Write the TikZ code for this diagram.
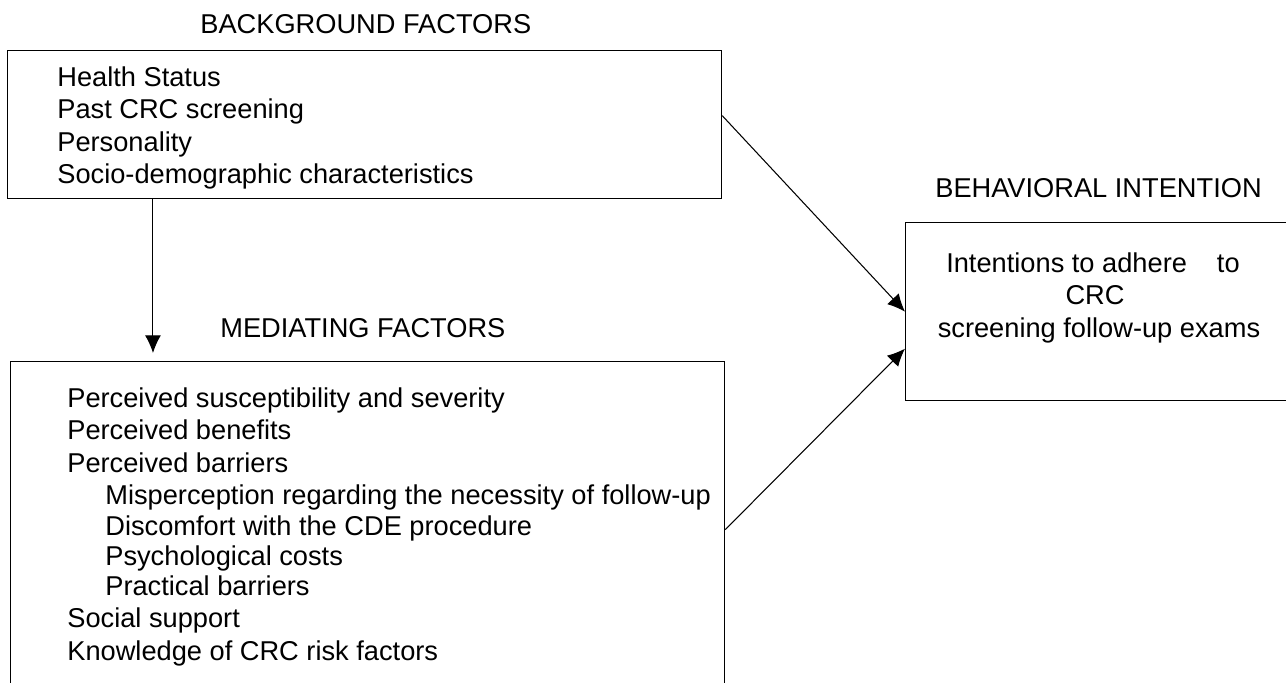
\documentclass[tikz,border=0pt]{standalone}
\usepackage{fontspec}
\setmainfont{Liberation Sans}
\usepackage{tikz}
\usetikzlibrary{arrows.meta}
\usetikzlibrary{calc}

\begin{document}
\begin{tikzpicture}[x=0.02cm, y=-0.02cm]
        % ================= styles =================
        \tikzset{
            factorbox/.style={rectangle, draw=black, line width=0.8pt, inner sep=0pt, anchor=north west},
            heading/.style={font=\fontsize{15.5}{18}\selectfont, anchor=base west, inner sep=0pt},
            item/.style={font=\fontsize{15.5}{18}\selectfont, anchor=base west, inner sep=0pt},
            link/.style={-{Latex[length=10pt, width=9pt]}, line width=0.6pt, black}
        }
        \useasboundingbox (0,0) rectangle (1286,683);
        \clip (0,0) rectangle (1286,683);

        % ================= background factors =================
        \node[heading] (bgtitle) at (200,33) {BACKGROUND FACTORS};
        \node[factorbox, minimum width=14.28cm, minimum height=2.96cm] (bg) at (7,50) {};
        \foreach \txt/\yy [count=\i] in {Health Status/86, Past CRC screening/118,
            Personality/151, Socio-demographic characteristics/183}
            \node[item] (b\i) at (57,\yy) {\txt};

        % ================= mediating factors =================
        \node[heading] (medtitle) at (220,337) {MEDIATING FACTORS};
        \node[factorbox, minimum width=14.28cm, minimum height=6.72cm] (med) at (10,361) {};
        \foreach \txt/\xx/\yy [count=\i] in {
            Perceived susceptibility and severity/67/407,
            Perceived benefits/67/439,
            Perceived barriers/67/472,
            Misperception regarding the necessity of follow-up/105/504,
            Discomfort with the CDE procedure/105/535,
            Psychological costs/105/565,
            Practical barriers/105/595,
            Social support/67/627,
            Knowledge of CRC risk factors/67/660}
            \node[item] (m\i) at (\xx,\yy) {\txt};

        % ================= behavioral intention =================
        \node[heading] (bititle) at (935,197) {BEHAVIORAL INTENTION};
        \node[factorbox, minimum width=7.7cm, minimum height=3.56cm] (bi) at (905,222) {};
        \node[item, anchor=base] (i1) at (1093,272) {Intentions to adhere\hspace{0.6cm}to};
        \node[item, anchor=base] (i2) at (1095,304) {CRC};
        \node[item, anchor=base] (i3) at (1099,337) {screening follow-up exams};

        % ================= arrows =================
        \coordinate (drop) at ([xshift=2.92cm]bg.south west);
        \draw[link, shorten >=0.16cm] (drop) -- (drop |- med.north);
        \draw[link] ([yshift=0.18cm]bg.east) -- (bi.west);
        \draw[link] (med.east) -- ([yshift=-0.74cm]bi.west);

\end{tikzpicture}
\end{document}
